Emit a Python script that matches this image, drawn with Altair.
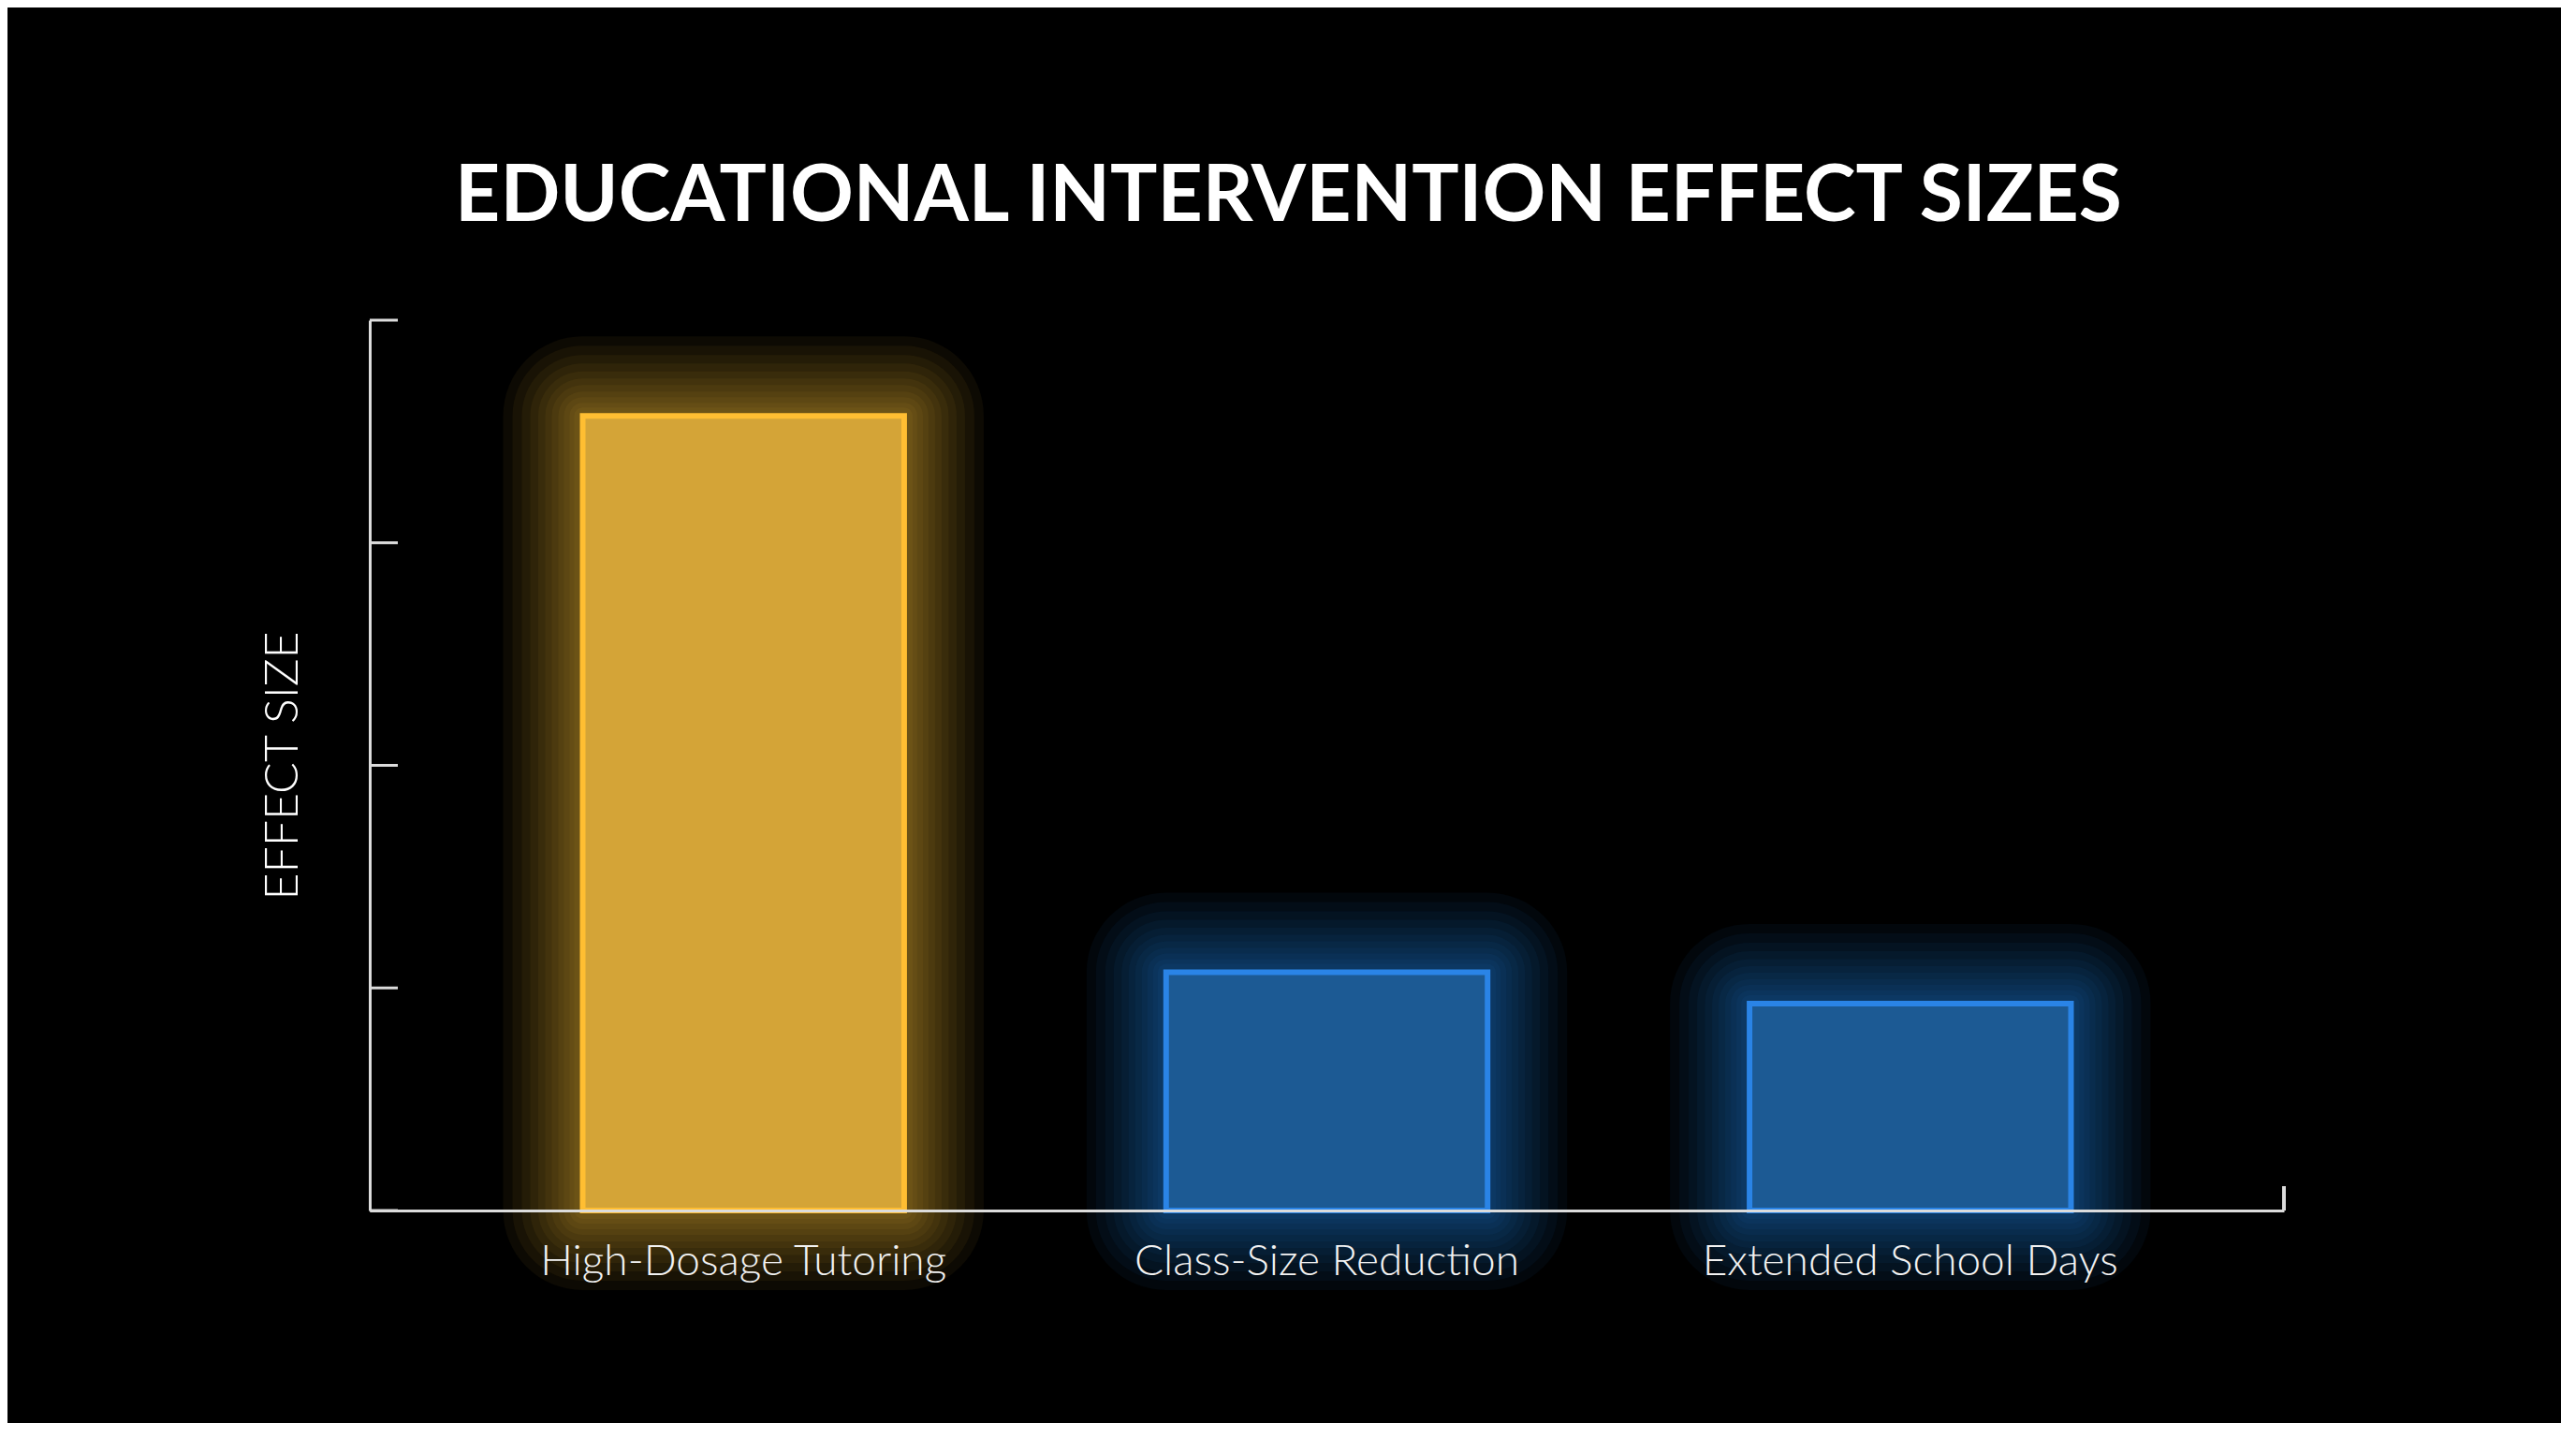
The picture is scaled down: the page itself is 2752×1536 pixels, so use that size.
import altair as alt
import pandas as pd

# ---- data ----
categories = ["High-Dosage Tutoring", "Class-Size Reduction", "Extended School Days"]
effect_sizes = [0.357, 0.107, 0.093]
y_tick_values = [0.0, 0.1, 0.2, 0.3, 0.4]
chart_title = "EDUCATIONAL INTERVENTION EFFECT SIZES"
y_title = "EFFECT SIZE"

# ---- styles ----
fill_colors = ["#D4A437", "#1C5A94", "#1C5A94"]
edge_colors = ["#FFC94F", "#3D91E3", "#3D91E3"]
glow_colors = ["#FFBE32", "#2A84E6", "#2A84E6"]
axis_color = "#DCDCDC"
W, H = 2045, 951

df = pd.DataFrame({"intervention": categories, "effect": effect_sizes})
ticks_df = pd.DataFrame({"tick": y_tick_values})

x_scale = alt.Scale(domain=categories, paddingInner=0.449, paddingOuter=0.365)
y_scale = alt.Scale(domain=[0, 0.4], nice=False)

x_axis = alt.Axis(
    title=None, ticks=False, domain=True, domainColor=axis_color, domainWidth=3,
    labelAngle=0, labelFont="Lato", labelFontWeight=300, labelFontSize=46,
    labelColor="#F2F2F2", labelPadding=32, labelLimit=0, grid=False, zindex=2,
)
y_axis = alt.Axis(
    title=y_title, titleFont="Lato", titleFontWeight=300, titleFontSize=50,
    titleColor="#FFFFFF", titlePadding=68, labels=False, ticks=False,
    domain=True, domainColor=axis_color, domainWidth=3, grid=False, zindex=2,
)

x_enc = alt.X("intervention:N", sort=categories, scale=x_scale, axis=x_axis)
y_enc = alt.Y("effect:Q", scale=y_scale, axis=y_axis)

base = alt.Chart(df)

glow_layers = []
for w in [170, 150, 130, 112, 95, 80, 66, 52, 40, 28, 18]:
    glow_layers.append(
        base.mark_bar(fillOpacity=0, strokeOpacity=0.05, strokeWidth=w, strokeJoin="round").encode(
            x=x_enc,
            y=y_enc,
            stroke=alt.Stroke("intervention:N", scale=alt.Scale(domain=categories, range=glow_colors), legend=None),
        )
    )

bars = base.mark_bar(strokeWidth=6).encode(
    x=x_enc,
    y=y_enc,
    fill=alt.Fill("intervention:N", scale=alt.Scale(domain=categories, range=fill_colors), legend=None),
    stroke=alt.Stroke("intervention:N", scale=alt.Scale(domain=categories, range=edge_colors), legend=None),
)

tick_rules = alt.Chart(ticks_df).mark_rule(color=axis_color, strokeWidth=3).encode(
    y=alt.Y("tick:Q", scale=y_scale, axis=y_axis),
    x=alt.value(0),
    x2=alt.value(30),
)

end_tick = alt.Chart(ticks_df).mark_rule(color=axis_color, strokeWidth=3).encode(
    x=alt.value(W), y=alt.value(H), y2=alt.value(H - 26)
)

chart = alt.layer(*glow_layers, bars, tick_rules, end_tick).properties(
    width=W,
    height=H,
    padding={"left": 387, "top": 334, "right": 296, "bottom": 227},
    autosize=alt.AutoSizeParams(type="none"),
    background="#000000",
    title=alt.TitleParams(
        text=chart_title, font="Lato", fontSize=84, fontWeight="bold",
        color="#FFFFFF", anchor="middle", baseline="alphabetic", offset=21, dx=-41,
    ),
).configure_view(stroke=None)

chart.save("out.html", embed_options={"renderer": "svg", "actions": False})
